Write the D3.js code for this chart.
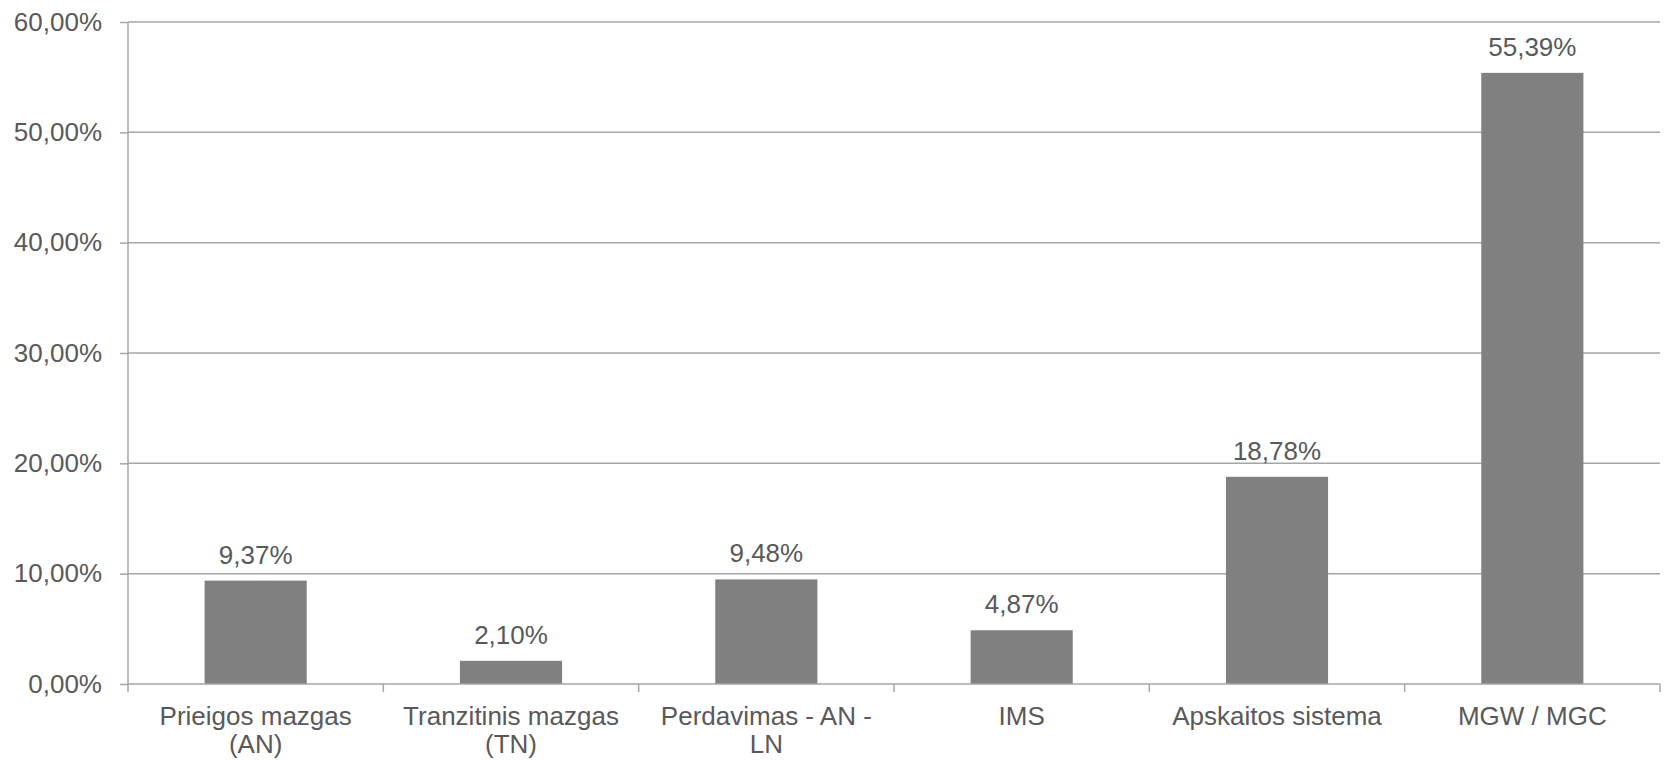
<!DOCTYPE html>
<html>
<head>
<meta charset="utf-8">
<script src="https://cdn.jsdelivr.net/npm/d3@7"></script>
<style>
  body { margin: 0; background: #fff; }
  svg { display: block; font-family: "Liberation Sans", Arial, sans-serif; }
</style>
</head>
<body>
<svg></svg>
<script>
const width = 1667;
const height = 760;

// data
const categories = [
    "Prieigos mazgas\n(AN)",
    "Tranzitinis mazgas\n(TN)",
    "Perdavimas - AN -\nLN",
    "IMS",
    "Apskaitos sistema",
    "MGW / MGC"
];
const values = [9.37, 2.10, 9.48, 4.87, 18.78, 55.39];
const yTicks = [0, 10, 20, 30, 40, 50, 60];

const margin = { top: 22, right: 7, bottom: 76, left: 128 };
const textColor = "#595959";
const gridColor = "#a6a6a6";
const fontSize = 26;

let svg = d3.select("svg").attr("width", width).attr("height", height);

const x = d3
    .scaleBand()
    .domain(categories)
    .range([margin.left, width - margin.right])
    .paddingInner(0.6)
    .paddingOuter(0.3);

const y = d3
    .scaleLinear()
    .domain([0, 60])
    .range([height - margin.bottom, margin.top]);

const fmt = (v) => v.toFixed(2).replace(".", ",") + "%";

// grid lines + y axis
const yAxis = svg
    .append("g")
    .attr("transform", `translate(${margin.left},0)`)
    .call(
        d3.axisLeft(y)
            .tickValues(yTicks)
            .tickSize(8)
            .tickPadding(18)
            .tickFormat(fmt)
    );
yAxis.select(".domain").attr("stroke", gridColor).attr("stroke-width", 1.5)
    .attr("d", `M0,${y(0)}V${y(60)}`);
yAxis.selectAll(".tick line").attr("stroke", gridColor).attr("stroke-width", 1.5);
yAxis.selectAll(".tick text")
    .attr("fill", textColor)
    .style("font-size", fontSize + "px")
    .style("font-family", "Liberation Sans, Arial, sans-serif");

svg.append("g")
    .selectAll("line")
    .data(yTicks.filter((d) => d > 0))
    .join("line")
    .attr("x1", margin.left)
    .attr("x2", width - margin.right)
    .attr("y1", (d) => y(d))
    .attr("y2", (d) => y(d))
    .attr("stroke", gridColor)
    .attr("stroke-width", 1.5);

// bars
svg.append("g")
    .selectAll("rect")
    .data(values)
    .join("rect")
    .attr("x", (d, i) => x(categories[i]))
    .attr("width", x.bandwidth())
    .attr("y", (d) => y(d))
    .attr("height", (d) => y(0) - y(d))
    .attr("fill", "#808080");

// value labels
svg.append("g")
    .selectAll("text")
    .data(values)
    .join("text")
    .attr("x", (d, i) => x(categories[i]) + x.bandwidth() / 2)
    .attr("y", (d) => y(d) - 17)
    .attr("text-anchor", "middle")
    .attr("fill", textColor)
    .style("font-size", fontSize + "px")
    .text(fmt);

// x axis
const step = x.step();
const x0 = margin.left;
const xAxis = svg.append("g");
xAxis.append("line")
    .attr("x1", x0)
    .attr("x2", width - margin.right)
    .attr("y1", y(0))
    .attr("y2", y(0))
    .attr("stroke", gridColor)
    .attr("stroke-width", 1.5);
xAxis.selectAll(".tk")
    .data(d3.range(categories.length + 1))
    .join("line")
    .attr("class", "tk")
    .attr("x1", (i) => x0 + i * step)
    .attr("x2", (i) => x0 + i * step)
    .attr("y1", y(0))
    .attr("y2", y(0) + 8)
    .attr("stroke", gridColor)
    .attr("stroke-width", 1.5);

const labels = xAxis.selectAll(".lbl")
    .data(categories)
    .join("text")
    .attr("class", "lbl")
    .attr("text-anchor", "middle")
    .attr("fill", textColor)
    .style("font-size", fontSize + "px")
    .attr("transform", (d) => `translate(${x(d) + x.bandwidth() / 2},${y(0) + 41})`);
labels.selectAll("tspan")
    .data((d) => d.split("\n"))
    .join("tspan")
    .attr("x", 0)
    .attr("y", (d, i) => i * 28)
    .text((d) => d);
</script>
</body>
</html>
